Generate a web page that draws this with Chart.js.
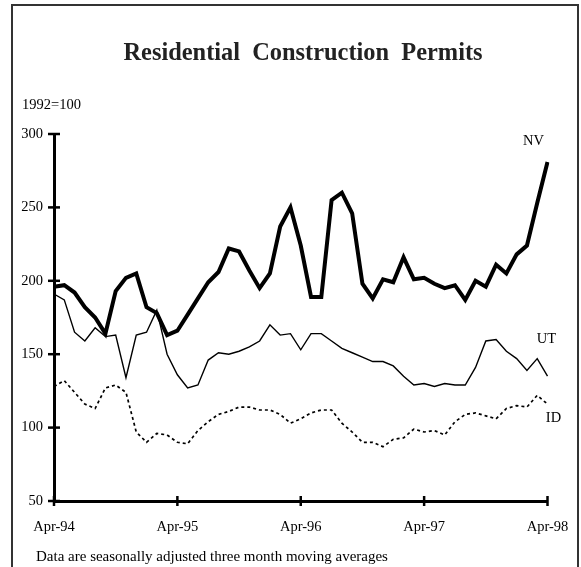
<!DOCTYPE html>
<html>
<head>
<meta charset="utf-8">
<script src="https://cdn.jsdelivr.net/npm/chart.js@4"></script>
<style>
  html, body { margin: 0; padding: 0; background: #fff; overflow: hidden; }
  #wrap { position: relative; width: 581px; height: 567px; }
  #frame { position: absolute; left: 11px; top: 4px; width: 564px; height: 620px; border: 2px solid #333; }
  #chart { position: absolute; left: 0; top: 0; }
</style>
</head>
<body>
<div id="wrap">
  <div id="frame"></div>
  <canvas id="chart" width="581" height="567"></canvas>
</div>
<script>
// monthly, Apr-94 .. Apr-98 (1992=100)
const monthNames = ["Jan", "Feb", "Mar", "Apr", "May", "Jun", "Jul", "Aug", "Sep", "Oct", "Nov", "Dec"];
const startYear = 94;
const startMonth = 3; // Apr
const tickMonth = "Apr";

const nv = [196, 197, 192, 182, 175, 164, 193, 202, 205, 182, 178, 163, 166, 177, 188, 199, 206, 222, 220, 207, 195, 205, 237, 250, 224,
  189, 189, 255, 260, 246, 198, 188, 201, 199, 216, 201, 202, 198, 195, 197, 187, 200, 196, 211, 205, 218, 224, 253, 281];
const ut = [191, 187, 165, 159, 168, 162, 163, 134, 163, 165, 180, 150, 136, 127, 129, 146, 151, 150, 152, 155, 159, 170, 163, 164, 153,
  164, 164, 159, 154, 151, 148, 145, 145, 142, 135, 129, 130, 128, 130, 129, 129, 141, 159, 160, 152, 147, 139, 147, 135];
const id = [128, 132, 124, 116, 113, 127, 129, 124, 97, 90, 96, 95, 90, 89, 98, 104, 109, 111, 114, 114, 112, 112, 109, 103, 106,
  110, 112, 112, 103, 97, 90, 90, 87, 92, 93, 99, 97, 98, 95, 104, 109, 110, 108, 106, 113, 115, 114, 122, 116];

const yTicks = [50, 100, 150, 200, 250, 300];

const titulo = "Residential  Construction  Permits";
const base = "1992=100";
const nota = "Data are seasonally adjusted three month moving averages";

const labels = nv.map((v, i) => {
  const m = startMonth + i;
  const yy = (startYear + Math.floor(m / 12)) % 100;
  return monthNames[m % 12] + "-" + String(yy).padStart(2, "0");
});

const serif = "'Liberation Serif', 'Times New Roman', serif";

// texto, marcas de eje y etiquetas de series
const extras = {
  id: "extras",
  afterDraw(chart) {
    const ctx = chart.ctx;
    const xs = chart.scales.x, ys = chart.scales.y;
    ctx.save();
    ctx.fillStyle = "#222";
    ctx.font = "bold 24.4px " + serif;
    ctx.textAlign = "center";
    ctx.textBaseline = "alphabetic";
    ctx.fillText(titulo, 303, 60);

    ctx.fillStyle = "#000";
    ctx.font = "14.5px " + serif;
    ctx.textAlign = "left";
    ctx.fillText(base, 22, 109);
    ctx.font = "15px " + serif;
    ctx.fillText(nota, 36, 561);

    // marcas que cruzan los ejes
    ctx.strokeStyle = "#000";
    ctx.lineWidth = 2.5;
    yTicks.forEach(v => {
      const y = ys.getPixelForValue(v);
      ctx.beginPath();
      ctx.moveTo(xs.left - 6, y);
      ctx.lineTo(xs.left + 6, y);
      ctx.stroke();
    });
    labels.forEach((l, i) => {
      if (!l.startsWith(tickMonth)) return;
      const x = xs.getPixelForValue(i);
      ctx.beginPath();
      ctx.moveTo(x, ys.bottom - 5);
      ctx.lineTo(x, ys.bottom + 5);
      ctx.stroke();
    });

    // nombres de series junto al ultimo punto
    ctx.font = "14.5px " + serif;
    ctx.textAlign = "center";
    chart.data.datasets.forEach(ds => {
      const last = ds.data.length - 1;
      const x = xs.getPixelForValue(last) + ds.etiqueta[0];
      const y = ys.getPixelForValue(ds.data[last]) + ds.etiqueta[1];
      ctx.fillText(ds.label, x, y);
    });
    ctx.restore();
  }
};

new Chart(document.getElementById("chart"), {
  type: "line",
  data: {
    labels: labels,
    datasets: [
      { label: "NV", data: nv, borderColor: "#000", borderWidth: 4, etiqueta: [-14, -17] },
      { label: "UT", data: ut, borderColor: "#000", borderWidth: 1.4, etiqueta: [-1, -33] },
      { label: "ID", data: id, borderColor: "#000", borderWidth: 1.7, borderDash: [3, 3], etiqueta: [6, 18] }
    ]
  },
  options: {
    responsive: false,
    animation: false,
    events: [],
    layout: { padding: { left: 14, right: 33.5, top: 134, bottom: 26 } },
    elements: {
      point: { radius: 0 },
      line: { tension: 0, borderJoinStyle: "miter", borderCapStyle: "butt" }
    },
    plugins: {
      legend: { display: false },
      tooltip: { enabled: false }
    },
    scales: {
      x: {
        type: "category",
        offset: false,
        grid: { display: false, drawTicks: false },
        border: { display: true, color: "#000", width: 3 },
        afterFit: s => { s.height = 40; },
        ticks: {
          autoSkip: false,
          maxRotation: 0,
          padding: 12,
          color: "#000",
          font: { family: serif, size: 14.5, lineHeight: 1.89 },
          callback: (v, i) => labels[i].startsWith(tickMonth) ? labels[i] : null
        }
      },
      y: {
        min: 50,
        max: 300,
        grid: { display: false, drawTicks: false },
        border: { display: true, color: "#000", width: 3 },
        afterFit: s => { s.width = 40; },
        ticks: {
          stepSize: 50,
          padding: 11,
          color: "#000",
          font: { family: serif, size: 14.5 }
        }
      }
    }
  },
  plugins: [extras]
});
</script>
</body>
</html>
